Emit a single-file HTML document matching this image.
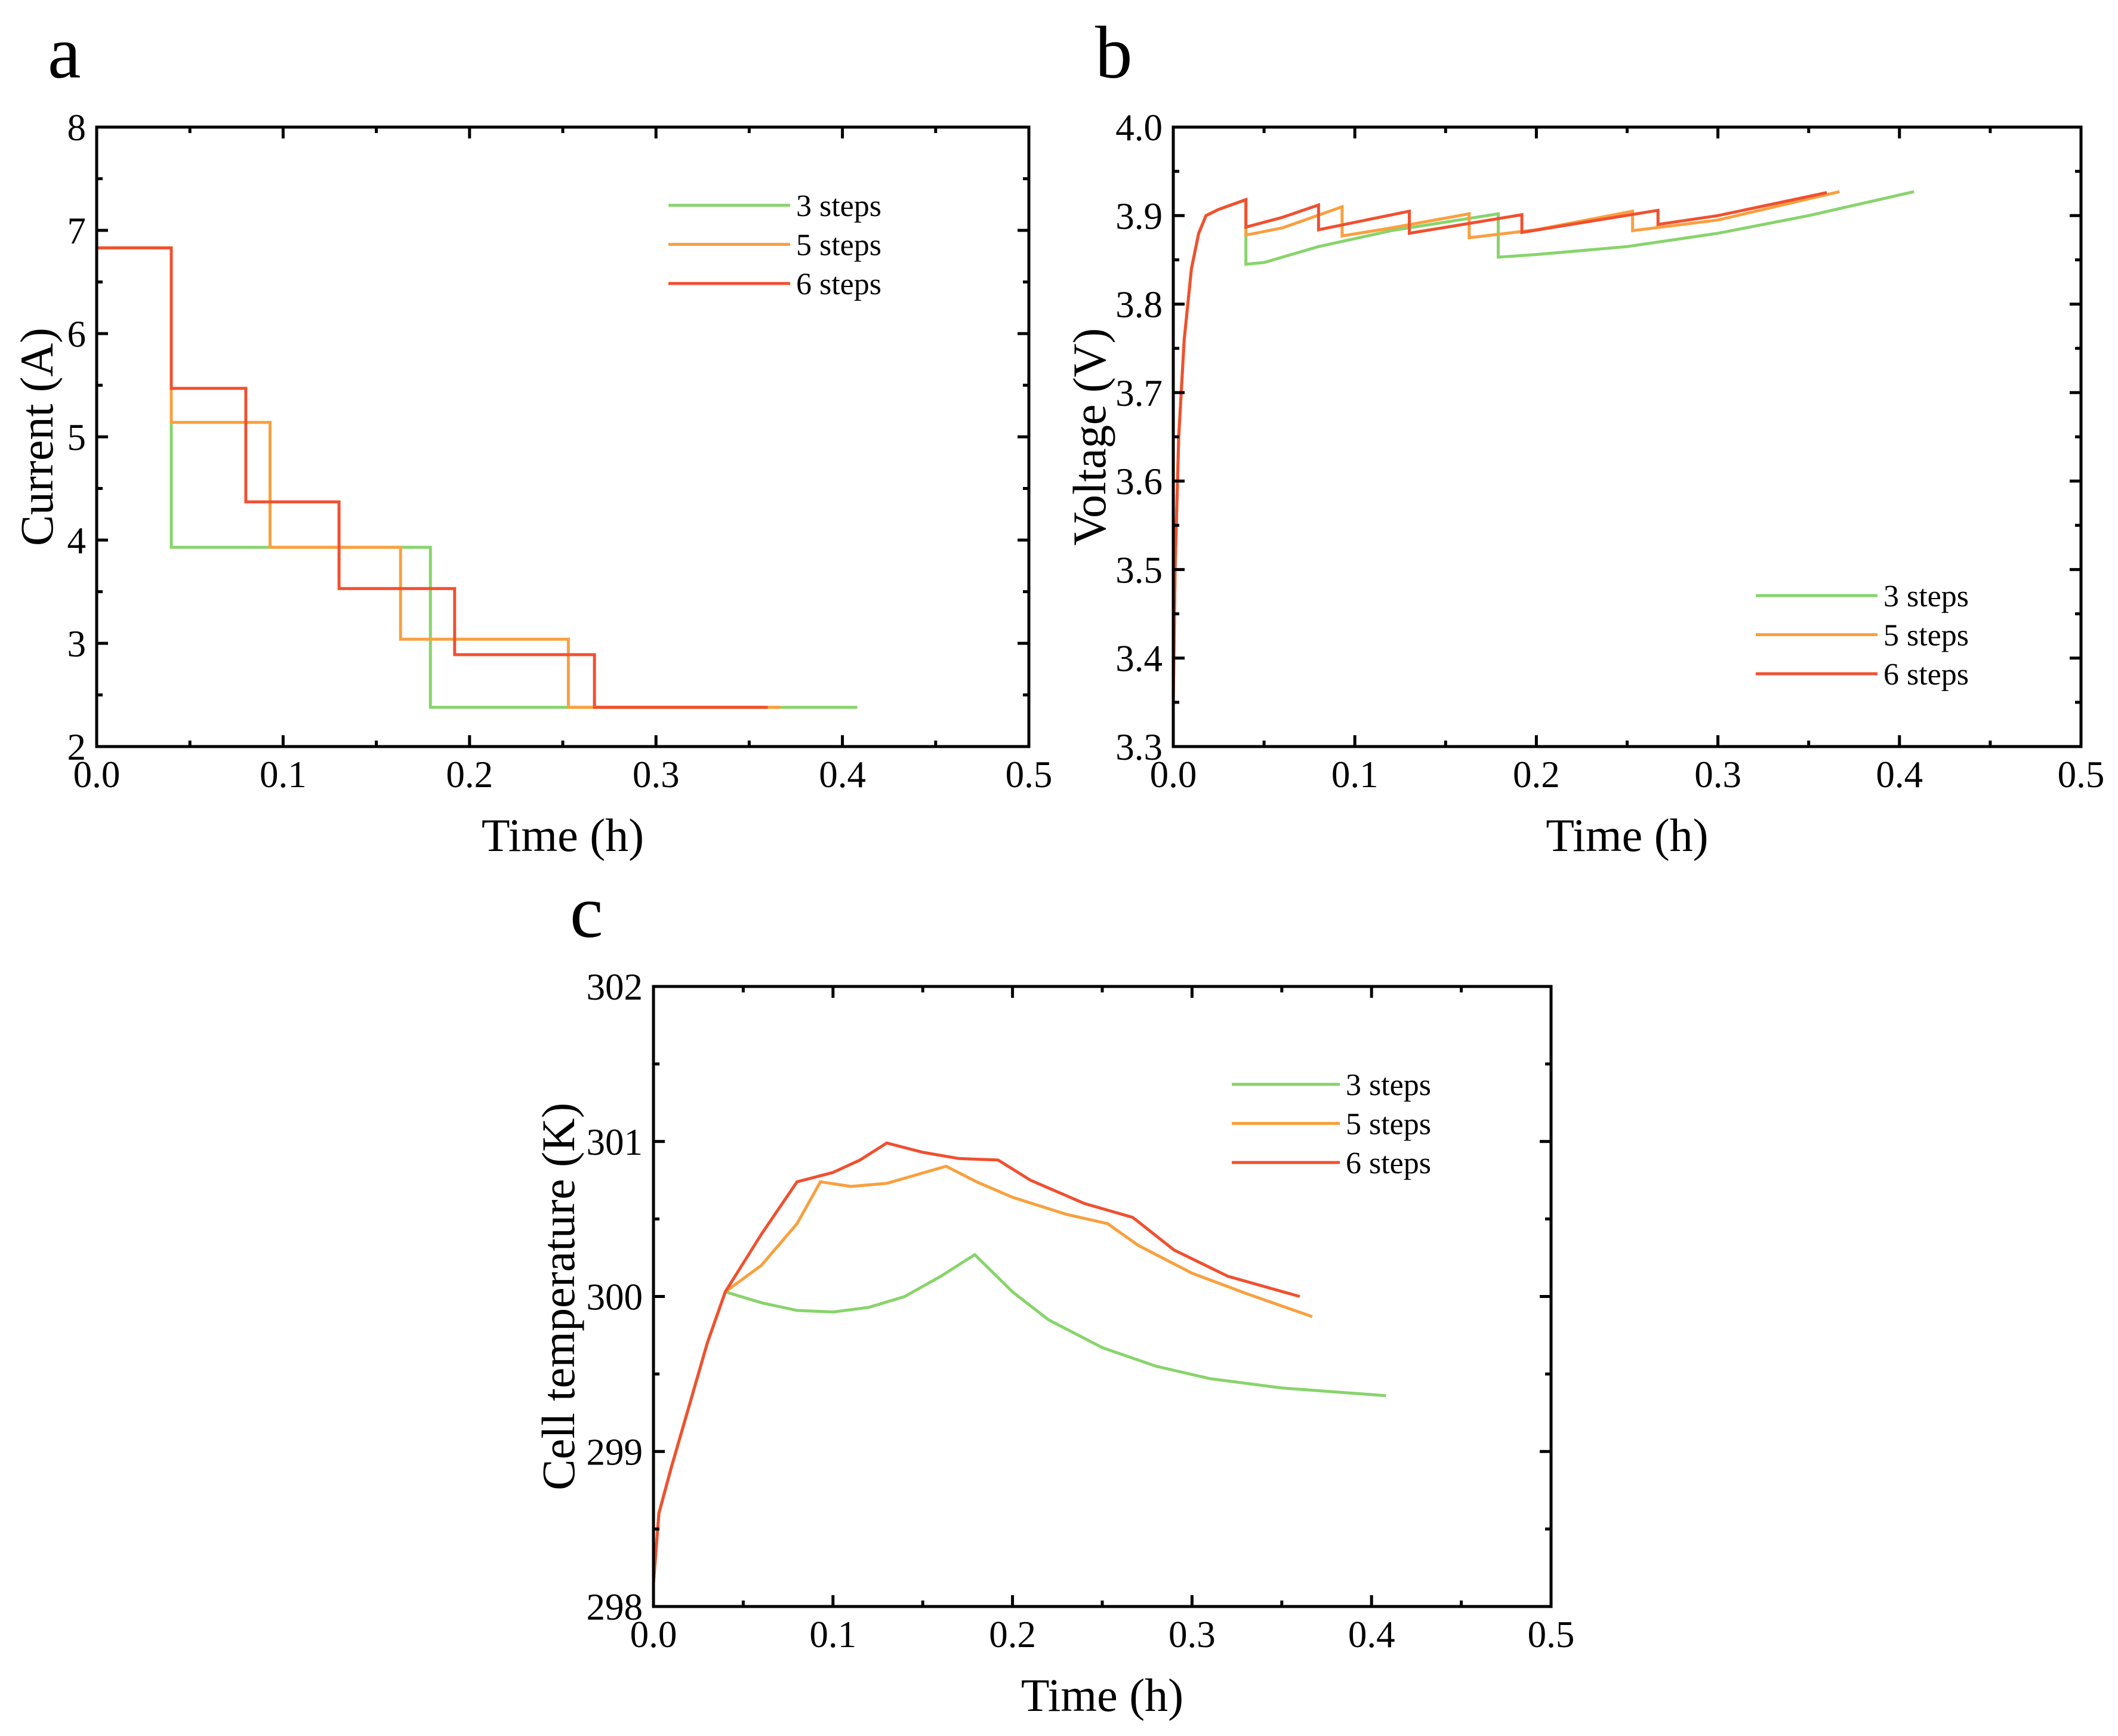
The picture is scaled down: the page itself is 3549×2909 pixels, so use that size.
<!DOCTYPE html>
<html><head><meta charset="utf-8"><style>
html,body{margin:0;padding:0;background:#fff}
svg{display:block}
text{font-family:"Liberation Serif","Times New Roman",serif;fill:#000}
</style></head><body>
<svg id="fig" width="3549" height="2909" viewBox="0 0 3549 2909" xmlns="http://www.w3.org/2000/svg"></svg>
<script>
// ---------- data ----------
const seriesNames = ["3 steps","5 steps","6 steps"];
const seriesColors = ["#88d46c","#f9a03f","#f05030"];
// Panel a: current step profiles [time, current]
const cur3 = [[0,6.83],[0.04,6.83],[0.04,3.93],[0.179,3.93],[0.179,2.38],[0.408,2.38]];
const cur5 = [[0,6.83],[0.04,6.83],[0.04,5.14],[0.093,5.14],[0.093,3.93],[0.163,3.93],[0.163,3.04],[0.253,3.04],[0.253,2.38],[0.367,2.38]];
const cur6 = [[0,6.83],[0.04,6.83],[0.04,5.47],[0.08,5.47],[0.08,4.37],[0.13,4.37],[0.13,3.53],[0.192,3.53],[0.192,2.89],[0.267,2.89],[0.267,2.38],[0.36,2.38]];
// Panel b: voltage
const vStart = [[0,3.35],[0.001,3.5],[0.003,3.65],[0.006,3.76],[0.01,3.84],[0.014,3.88],[0.018,3.9],[0.025,3.907],[0.04,3.918]];
const volt3 = [[0.04,3.845],[0.05,3.847],[0.08,3.865],[0.12,3.883],[0.179,3.902],[0.179,3.853],[0.2,3.856],[0.25,3.865],[0.3,3.88],[0.35,3.9],[0.408,3.927]];
const volt5 = [[0.04,3.878],[0.06,3.886],[0.093,3.91],[0.093,3.877],[0.12,3.886],[0.163,3.902],[0.163,3.875],[0.2,3.884],[0.253,3.905],[0.253,3.883],[0.3,3.895],[0.367,3.927]];
const volt6 = [[0.04,3.887],[0.06,3.898],[0.08,3.912],[0.08,3.884],[0.13,3.905],[0.13,3.88],[0.192,3.901],[0.192,3.881],[0.267,3.906],[0.267,3.89],[0.3,3.9],[0.36,3.926]];
// Panel c: temperature
const tStart = [[0,298.15],[0.003,298.6],[0.01,298.9],[0.02,299.3],[0.03,299.7],[0.04,300.03]];
const temp3 = [[0.06,299.96],[0.08,299.91],[0.1,299.9],[0.12,299.93],[0.14,300.0],[0.16,300.13],[0.179,300.27],[0.2,300.03],[0.22,299.85],[0.25,299.67],[0.28,299.55],[0.31,299.47],[0.35,299.41],[0.408,299.36]];
const temp5 = [[0.06,300.2],[0.08,300.47],[0.093,300.74],[0.11,300.71],[0.13,300.73],[0.163,300.84],[0.18,300.74],[0.2,300.64],[0.23,300.53],[0.253,300.47],[0.27,300.33],[0.3,300.15],[0.33,300.02],[0.367,299.87]];
const temp6 = [[0.06,300.4],[0.08,300.74],[0.1,300.8],[0.115,300.88],[0.13,300.99],[0.15,300.93],[0.17,300.89],[0.192,300.88],[0.21,300.75],[0.24,300.6],[0.267,300.51],[0.29,300.3],[0.32,300.13],[0.36,300.0]];
const xTicks = ["0.0","0.1","0.2","0.3","0.4","0.5"];
const yTicksA = ["2","3","4","5","6","7","8"];
const yTicksB = ["3.3","3.4","3.5","3.6","3.7","3.8","3.9","4.0"];
const yTicksC = ["298","299","300","301","302"];

// ---------- drawing ----------
const NS="http://www.w3.org/2000/svg";
const svg=document.getElementById('fig');
function el(tag,attrs,parent,txt){const e=document.createElementNS(NS,tag);for(const k in attrs)e.setAttribute(k,attrs[k]);if(txt!==undefined)e.textContent=txt;(parent||svg).appendChild(e);return e;}

function panel(cfg){
  const g=el('g',{});
  
  
  const {L,R,T,B,xmin,xmax,ymin,ymax}=cfg;
  const sx=v=>L+(v-xmin)/(xmax-xmin)*(R-L);
  const sy=v=>B-(v-ymin)/(ymax-ymin)*(B-T);
  cfg.series.forEach((pts,i)=>{
    const p=el('polyline',{points:pts.map(d=>sx(d[0]).toFixed(1)+','+sy(d[1]).toFixed(1)).join(' '),fill:'none',stroke:seriesColors[i],'stroke-width':5,'stroke-linejoin':'miter'},g);
    
    
  });
  const tg=el('g',{stroke:'#000','stroke-width':5},g);
  const xs=cfg.xTicks.map(Number);
  for(let v=xmin;v<=xmax+1e-9;v+=0.05){
    const major=Math.abs(Math.round(v*10)-v*10)<1e-6;const len=major?19:10;const x=sx(v);
    el('line',{x1:x,y1:B,x2:x,y2:B-len},tg);el('line',{x1:x,y1:T,x2:x,y2:T+len},tg);
  }
  const ys=cfg.yTicks.map(Number);const step=ys[1]-ys[0];
  for(let k=0;k<=(ys.length-1)*2;k++){
    const v=ys[0]+k*step/2;const major=k%2===0;const len=major?19:10;const y=sy(v);
    el('line',{x1:L,y1:y,x2:L+len,y2:y},tg);el('line',{x1:R,y1:y,x2:R-len,y2:y},tg);
  }
  const fr=el('rect',{x:L,y:T,width:R-L,height:B-T,fill:'none',stroke:'#000','stroke-width':5},g);
  
  cfg.xTicks.forEach((t,i)=>{const e=el('text',{x:sx(xs[i]),y:B+68,'font-size':63,'text-anchor':'middle'},g,t);
    });
  cfg.yTicks.forEach((t,i)=>{const e=el('text',{x:L-18,y:sy(ys[i])+22,'font-size':63,'text-anchor':'end'},g,t);
    });
  const xt=el('text',{x:(L+R)/2,y:B+175,'font-size':78,'text-anchor':'middle'},g,'Time (h)');
  
  const cy=(T+B)/2;
  const yt=el('text',{x:cfg.yTitleX,y:cy,'font-size':78,'text-anchor':'middle',transform:`rotate(-90 ${cfg.yTitleX} ${cy})`},g,cfg.yTitle);
  
  const pl=el('text',{x:cfg.letterX,y:cfg.letterY,'font-size':125},g,cfg.letter);
  
  const lg=el('g',{},g);
  
  seriesNames.forEach((n,i)=>{
    const y=cfg.legY+i*cfg.legDy;
    const eg=el('g',{},lg);
    
    el('line',{x1:cfg.legX1,y1:y,x2:cfg.legX2,y2:y,stroke:seriesColors[i],'stroke-width':5},eg);
    el('text',{x:cfg.legX2+10,y:y+18,'font-size':52},eg,n);
  });
}

panel({name:'panel-a-current',L:162,R:1724,T:213,B:1251,xmin:0,xmax:0.5,ymin:2,ymax:8,
  series:[cur3,cur5,cur6],xTicks,yTicks:yTicksA,yTitle:'Current (A)',yTitleX:88,
  letter:'a',letterX:80,letterY:130,legX1:1120,legX2:1324,legY:344,legDy:65.5});
panel({name:'panel-b-voltage',L:1966,R:3487,T:213,B:1251,xmin:0,xmax:0.5,ymin:3.3,ymax:4.0,
  series:[vStart.concat(volt3),vStart.concat(volt5),vStart.concat(volt6)],xTicks,yTicks:yTicksB,yTitle:'Voltage (V)',yTitleX:1852,
  letter:'b',letterX:1835,letterY:130,legX1:2942,legX2:3146,legY:998,legDy:65.5});
panel({name:'panel-c-temperature',L:1095,R:2599,T:1653,B:2692,xmin:0,xmax:0.5,ymin:298,ymax:302,
  series:[tStart.concat(temp3),tStart.concat(temp5),tStart.concat(temp6)],xTicks,yTicks:yTicksC,yTitle:'Cell temperature (K)',yTitleX:962,
  letter:'c',letterX:955,letterY:1570,legX1:2064,legX2:2245,legY:1817,legDy:65.5});
</script>
</body></html>
